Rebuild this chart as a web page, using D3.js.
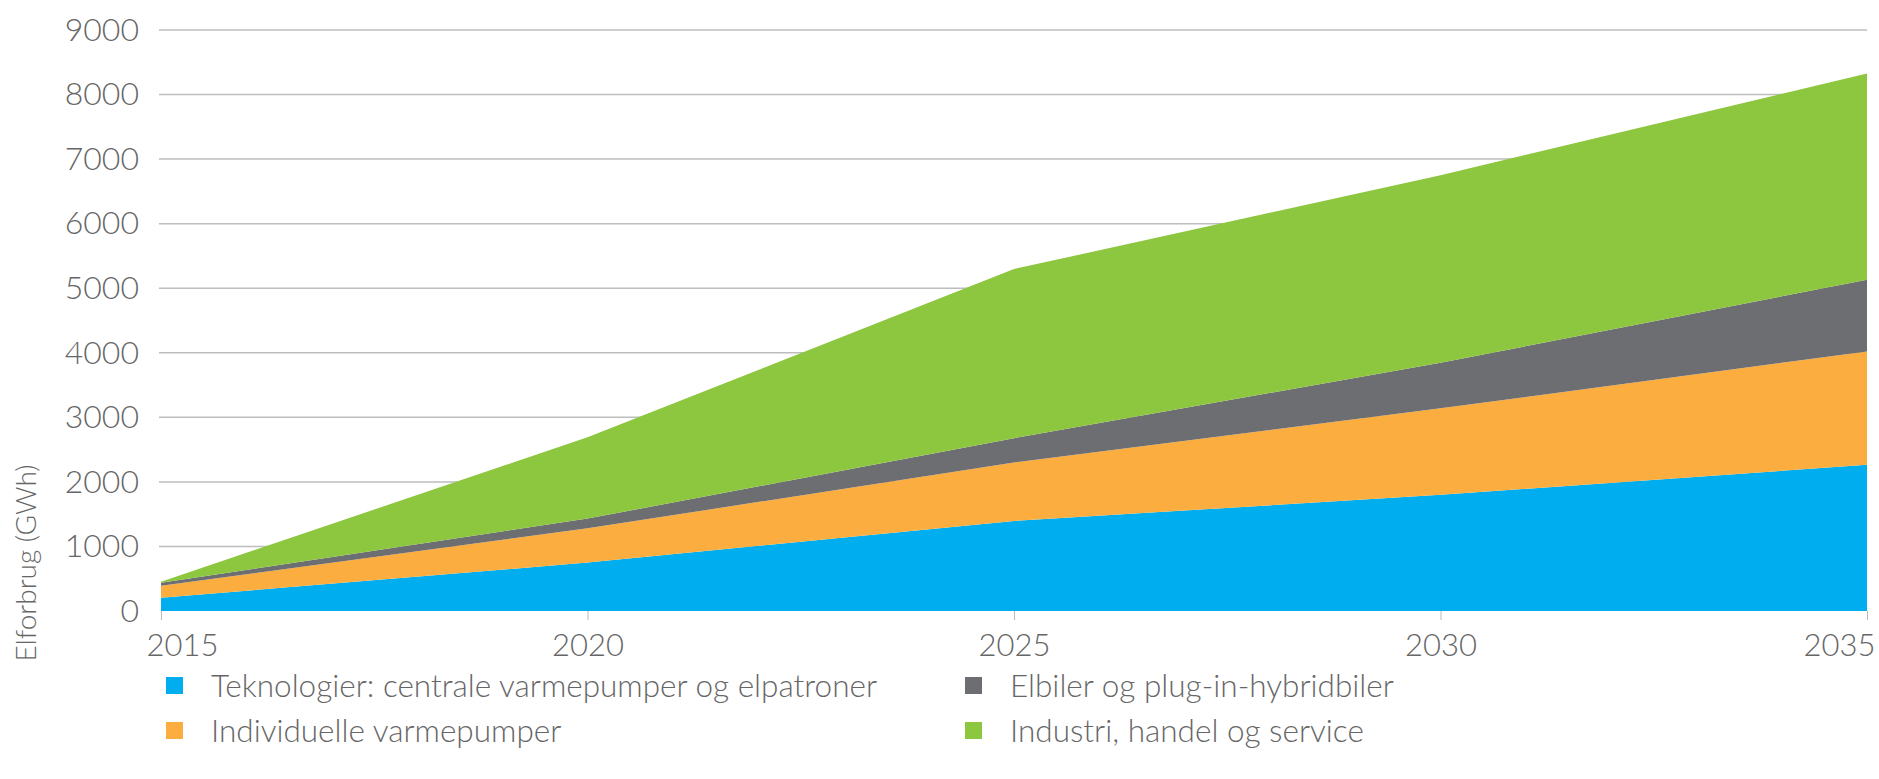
<!DOCTYPE html>
<html>
<head>
<meta charset="utf-8">
<script src="https://cdn.jsdelivr.net/npm/d3@7"></script>
<style>
  body { margin: 0; background: #fff; }
  svg text { font-family: Lato, "Open Sans", sans-serif; font-weight: 300; fill: #666; }
</style>
</head>
<body>
<svg id="chart" width="1879" height="779"></svg>
<script>
// data (GWh)
var years = [2015, 2020, 2025, 2030, 2035];
var teknologier = [206, 750, 1395, 1800, 2264];
var individuelle = [186, 530, 905, 1340, 1756];
var elbiler = [46, 151, 377, 705, 1112];
var industri = [16, 1259, 2620, 2905, 3194];
var yTicks = [0, 1000, 2000, 3000, 4000, 5000, 6000, 7000, 8000, 9000];

var seriesNames = [
  'Teknologier: centrale varmepumper og elpatroner',
  'Individuelle varmepumper',
  'Elbiler og plug-in-hybridbiler',
  'Industri, handel og service'
];
var colors = ['#00aeef', '#fbad3f', '#6d6e71', '#8dc63f'];

var svg = d3.select('#chart');
var x = d3.scaleLinear().domain([2015, 2035]).range([161, 1867]);
var y = d3.scaleLinear().domain([0, 9000]).range([611, 30]);

// build rows for the stack
var rows = years.map(function (yr, i) {
  return { year: yr, s0: teknologier[i], s1: individuelle[i], s2: elbiler[i], s3: industri[i] };
});
var stack = d3.stack().keys(['s0', 's1', 's2', 's3']);
var layers = stack(rows);

// grid
svg.append('g')
  .selectAll('line')
  .data(yTicks.filter(function (d) { return d > 0; }))
  .join('line')
  .attr('x1', 159)
  .attr('x2', 1867)
  .attr('y1', function (d) { return y(d); })
  .attr('y2', function (d) { return y(d); })
  .attr('stroke', '#bdbdbd')
  .attr('stroke-width', 1.5);

var area = d3.area()
  .x(function (d) { return x(d.data.year); })
  .y0(function (d) { return y(d[0]); })
  .y1(function (d) { return y(d[1]); });

svg.append('g')
  .selectAll('path')
  .data(layers)
  .join('path')
  .attr('d', area)
  .attr('fill', function (d, i) { return colors[i]; });

// x axis
var xAxis = d3.axisBottom(x).tickValues(years).tickFormat(d3.format('d')).tickSize(9).tickPadding(14);
var gx = svg.append('g').attr('transform', 'translate(0,611)').call(xAxis);
gx.select('.domain').remove();
gx.selectAll('line').attr('stroke', '#bbb');
gx.selectAll('text').attr('font-size', 31).attr('fill', '#666');
// first and last labels are pulled inside the plot like in the original
gx.selectAll('.tick').filter(function (d) { return d === 2015; }).select('text').attr('x', 21);
gx.selectAll('.tick').filter(function (d) { return d === 2035; }).select('text')
  .attr('text-anchor', 'end').attr('x', 8);

// y axis
var yAxis = d3.axisLeft(y).tickValues(yTicks).tickFormat(d3.format('d')).tickSize(0).tickPadding(20);
var gy = svg.append('g').attr('transform', 'translate(159,0)').call(yAxis);
gy.select('.domain').remove();
gy.selectAll('text').attr('font-size', 32).attr('fill', '#666');

svg.append('text')
  .attr('transform', 'translate(36,563) rotate(-90)')
  .attr('text-anchor', 'middle')
  .attr('font-size', 28)
  .text('Elforbrug (GWh)');

// legend
var legendPos = [[171, 686], [171, 731], [970, 686], [970, 731]];
var lg = svg.append('g')
  .selectAll('g')
  .data(seriesNames)
  .join('g')
  .attr('transform', function (d, i) { return 'translate(' + legendPos[i][0] + ',' + legendPos[i][1] + ')'; });
lg.append('rect')
  .attr('x', -5).attr('y', -9).attr('width', 17).attr('height', 17)
  .attr('fill', function (d, i) { return colors[i]; });
lg.append('text')
  .attr('x', 40).attr('dy', '0.35em')
  .attr('font-size', 31.5)
  .text(function (d) { return d; });
</script>
</body>
</html>
